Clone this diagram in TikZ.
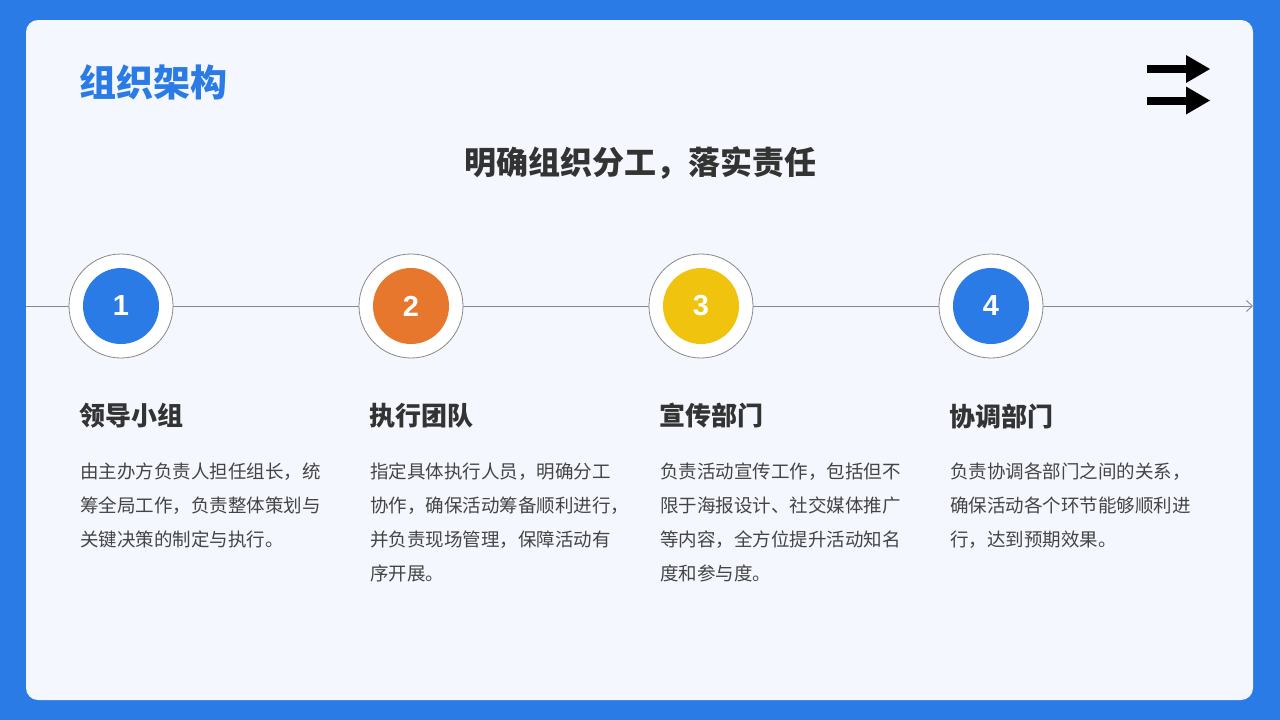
\documentclass[tikz,border=0pt]{standalone}
\usepackage{fontspec}
\setmainfont{Noto Sans CJK SC}
\newfontfamily\numfont{Liberation Sans}
\usetikzlibrary{arrows.meta}
\definecolor{bgblue}{HTML}{2A7BE6}
\definecolor{card}{HTML}{F4F7FD}
\definecolor{cblue}{HTML}{2A7BE6}
\definecolor{corange}{HTML}{E8772E}
\definecolor{cyellow}{HTML}{F0C30E}
\definecolor{darktext}{HTML}{333333}
\definecolor{bodytext}{HTML}{444444}
\definecolor{linegray}{HTML}{888888}
\tikzset{
  outerc/.style={circle, fill=white, draw=linegray, line width=0.8pt, minimum size=104pt, inner sep=0pt},
  innerc/.style={circle, minimum size=76pt, inner sep=0pt, text=white, font=\fontsize{29}{29}\selectfont\numfont\bfseries},
  headtext/.style={anchor=west, inner sep=0pt, text=darktext, font=\fontsize{26}{26}\selectfont\bfseries},
  bodytxt/.style={anchor=north west, inner sep=0pt, align=left, text=bodytext, font=\fontsize{18.5}{34}\selectfont},
}
\begin{document}
\begin{tikzpicture}[x=1pt,y=-1pt]
\useasboundingbox (0,0) rectangle (1280,720);
\fill[bgblue] (0,0) rectangle (1280,720);
\fill[card, rounded corners=12pt] (26,20) rectangle (1253,700);
% title
\node[anchor=west, inner sep=0pt, text=cblue, font=\fontsize{37}{37}\selectfont\bfseries] (title) at (79,82) {组织架构};
\node[inner sep=0pt, text=darktext, font=\fontsize{32}{32}\selectfont\bfseries] (sub) at (640,163) {明确组织分工，落实责任};
% icon
\fill[black] (1147,65) rectangle (1188,73);
\fill[black] (1186,55) -- (1210,69) -- (1186,83) -- cycle;
\fill[black] (1147,96.5) rectangle (1188,104.5);
\fill[black] (1186,86.5) -- (1210,100.5) -- (1186,114.5) -- cycle;
% timeline
\coordinate (ls) at (26,306);
\coordinate (le) at (1253,306);
\draw[linegray, line width=0.9pt, -{Straight Barb[length=6pt,width=11pt,line width=0.9pt]}] (ls) -- (le);
% circles
\foreach \i/\x/\c in {1/121/cblue, 2/411/corange, 3/701/cyellow, 4/991/cblue}{
  \node[outerc] (o\i) at (\x,306) {};
  \node[innerc, fill=\c] (n\i) at (\x,306) {\i};
}
% headings
\node[headtext] (h1) at (79,416) {领导小组};
\node[headtext] (h2) at (369,416) {执行团队};
\node[headtext] (h3) at (659,416) {宣传部门};
\node[headtext] (h4) at (949,416) {协调部门};
% bodies
\node[bodytxt] (b1) at (80,463) {由主办方负责人担任组长，统\\筹全局工作，负责整体策划与\\关键决策的制定与执行。};
\node[bodytxt] (b2) at (370,463) {指定具体执行人员，明确分工\\协作，确保活动筹备顺利进行，\\并负责现场管理，保障活动有\\序开展。};
\node[bodytxt] (b3) at (660,463) {负责活动宣传工作，包括但不\\限于海报设计、社交媒体推广\\等内容，全方位提升活动知名\\度和参与度。};
\node[bodytxt] (b4) at (950,463) {负责协调各部门之间的关系，\\确保活动各个环节能够顺利进\\行，达到预期效果。};
\end{tikzpicture}
\end{document}
